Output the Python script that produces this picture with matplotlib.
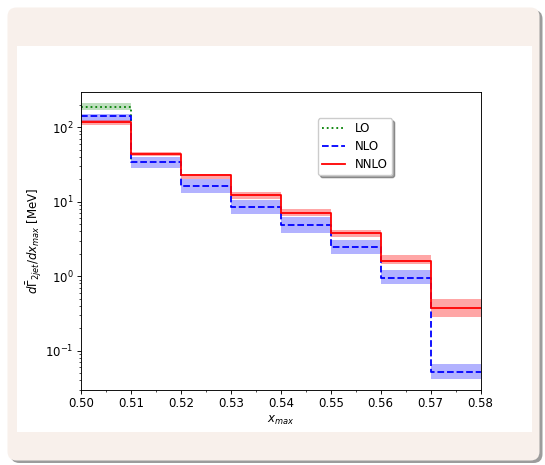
import numpy as np
import matplotlib
matplotlib.use('Agg')
import matplotlib.pyplot as plt
from matplotlib.patches import FancyBboxPatch, Rectangle
from matplotlib.transforms import IdentityTransform
from matplotlib.ticker import MultipleLocator, FormatStrFormatter

# x_max bin edges
edges = np.array([0.50, 0.51, 0.52, 0.53, 0.54, 0.55, 0.56, 0.57, 0.58])

# LO only lives in the first bin
lo = np.array([187.0])
lo_down = np.array([173.0])
lo_up = np.array([214.0])
lo_drop = 34.0  # where the LO step falls to at 0.51

nlo = np.array([142.0, 33.9, 16.5, 8.5, 4.8, 2.47, 0.955, 0.052])
nlo_down = np.array([122.0, 28.2, 12.9, 6.9, 3.8, 1.98, 0.78, 0.042])
nlo_up = np.array([151.0, 40.0, 20.3, 10.7, 6.2, 3.1, 1.2, 0.066])

nnlo = np.array([118.0, 43.8, 22.5, 12.4, 7.16, 3.78, 1.61, 0.368])
nnlo_down = np.array([107.0, 40.9, 20.5, 11.0, 6.4, 3.4, 1.44, 0.28])
nnlo_up = np.array([127.0, 47.2, 23.9, 13.6, 7.9, 4.17, 1.93, 0.487])

W, H = 545, 465
plt.rcParams['font.size'] = 8.5

fig = plt.figure(figsize=(W / 100, H / 100), dpi=100)
fig.patch.set_facecolor('white')

# card behind the plot (pixel coordinates)
shadow = FancyBboxPatch((10.5, 2), 532, 453, boxstyle='round,pad=0,rounding_size=9',
                        transform=IdentityTransform(), facecolor='#9c9c9c',
                        edgecolor='none', zorder=-3)
card = FancyBboxPatch((7.5, 4.5), 532, 453, boxstyle='round,pad=0,rounding_size=9',
                      transform=IdentityTransform(), facecolor='#f8f0eb',
                      edgecolor='none', zorder=-2)
inner = Rectangle((17, H - 432), 515, 386, transform=IdentityTransform(),
                  facecolor='white', edgecolor='none', zorder=-1)
for p in (shadow, card, inner):
    fig.add_artist(p)

l, r, t, b = 81.4, 480.5, 92.3, 389.5
ax = fig.add_axes([l / W, (H - b) / H, (r - l) / W, (b - t) / H])


def ext(v):
    return np.append(v, v[-1])


lw = 1.3
ax.fill_between(edges[:2], ext(lo_down), ext(lo_up), step='post',
                color='green', alpha=0.25, linewidth=0)
ax.fill_between(edges, ext(nlo_down), ext(nlo_up), step='post',
                color='blue', alpha=0.3, linewidth=0)
ax.fill_between(edges, ext(nnlo_down), ext(nnlo_up), step='post',
                color='red', alpha=0.35, linewidth=0)

ax.plot([edges[0], edges[1], edges[1]], [lo[0], lo[0], lo_drop],
        ':', color='green', lw=lw, label='LO')
ax.step(edges, ext(nlo), where='post', color='blue', ls='--', lw=lw, label='NLO')
ax.step(edges, ext(nnlo), where='post', color='red', ls='-', lw=lw, label='NNLO')

ax.set_yscale('log')
ax.set_xlim(0.50, 0.58)
ax.set_ylim(0.030, 295)
ax.xaxis.set_major_locator(MultipleLocator(0.01))
ax.xaxis.set_minor_locator(MultipleLocator(0.005))
ax.xaxis.set_major_formatter(FormatStrFormatter('%.2f'))
ax.tick_params(which='major', length=2.8, width=0.65, pad=2.8)
ax.tick_params(which='minor', length=1.6, width=0.5)
for s in ax.spines.values():
    s.set_linewidth(0.65)

ax.set_xlabel(r'$x_{max}$', labelpad=2.5)
ax.set_ylabel(r'$d\bar{\Gamma}_{2jet}/dx_{max}$ [MeV]', labelpad=1)

ax.legend(loc='upper left', bbox_to_anchor=(0.592, 0.913), borderaxespad=0,
          shadow=True, fancybox=True, fontsize=8.5, borderpad=0.35,
          labelspacing=0.4)

fig.savefig('out.png', dpi=100)
